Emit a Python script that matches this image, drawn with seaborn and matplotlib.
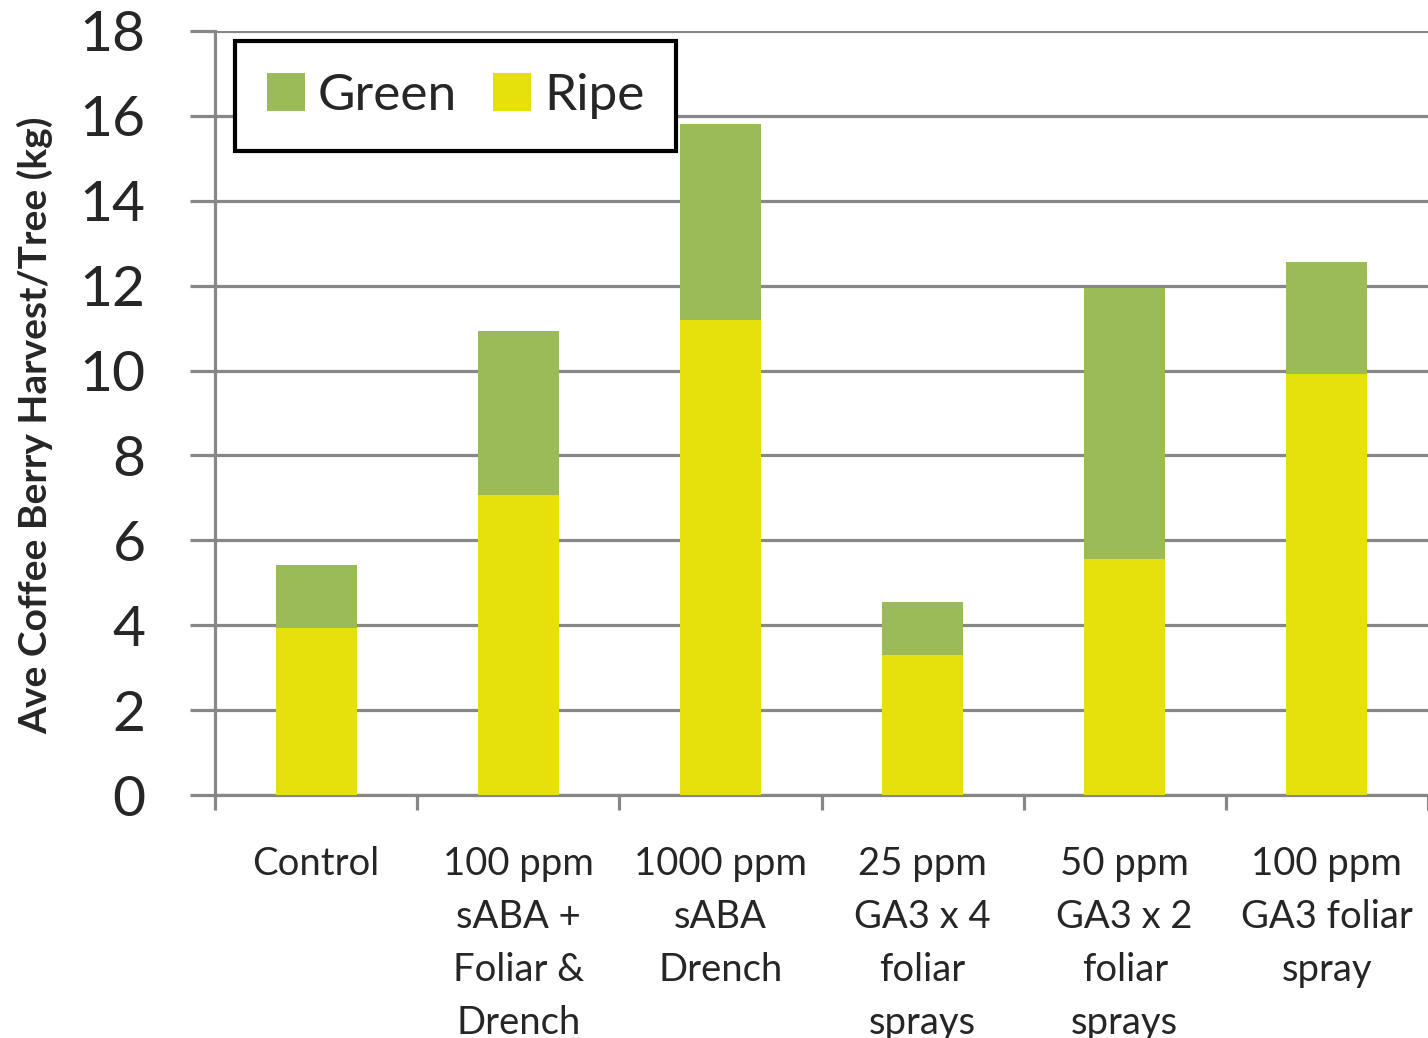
import numpy as np
import pandas as pd
import seaborn as sns
import matplotlib.pyplot as plt
from matplotlib.ticker import MultipleLocator, FixedLocator

# values (kg per tree)
treatments = ["Control",
              "100 ppm\nsABA +\nFoliar &\nDrench",
              "1000 ppm\nsABA\nDrench",
              "25 ppm\nGA3 x 4\nfoliar\nsprays",
              "50 ppm\nGA3 x 2\nfoliar\nsprays",
              "100 ppm\nGA3 foliar\nspray"]
ripe = [3.93, 7.07, 11.19, 3.30, 5.56, 9.92]
green = [1.49, 3.86, 4.62, 1.25, 6.39, 2.64]

GREEN = "#9bbb59"
YELLOW = "#e6e10c"
GRID = "#878787"

df = pd.DataFrame({"treatment": treatments, "ripe": ripe, "green": green})
df["total"] = df["ripe"] + df["green"]

sns.set_theme(style="white")
plt.rcParams["font.family"] = ["Lato", "DejaVu Sans"]

fig = plt.figure(figsize=(14.28, 10.38), dpi=100)
ax = fig.add_axes([215 / 1428, 1 - 795 / 1038, 1 - 215 / 1428, (795 - 31) / 1038])

# stacked bars: draw total in green, ripe on top of it in yellow
sns.barplot(data=df, x="treatment", y="total", color=GREEN, saturation=1,
            width=0.4, linewidth=0, errorbar=None, label="Green", ax=ax, zorder=3)
sns.barplot(data=df, x="treatment", y="ripe", color=YELLOW, saturation=1,
            width=0.4, linewidth=0, errorbar=None, label="Ripe", ax=ax, zorder=3)

ax.set_xlim(-0.5, 5.5)
ax.set_ylim(0, 18)
ax.yaxis.set_major_locator(MultipleLocator(2))
ax.grid(axis="y", color=GRID, linewidth=2.3, zorder=0)
ax.set_axisbelow(True)

for side in ["top", "right"]:
    ax.spines[side].set_visible(False)
for side in ["left", "bottom"]:
    ax.spines[side].set_color(GRID)
    ax.spines[side].set_linewidth(2.3)

ax.set_xticks(range(len(treatments)))
ax.set_xticklabels(treatments, fontsize=27.5, linespacing=1.58, va="top")
ax.xaxis.set_minor_locator(FixedLocator(np.arange(-0.5, 6, 1)))
ax.tick_params(axis="x", which="major", length=0, pad=37)
ax.tick_params(axis="x", which="minor", bottom=True, length=11, width=2.3, color=GRID)
ax.tick_params(axis="y", which="major", left=True, length=18, width=2.3, color=GRID,
               labelsize=41, pad=32)

ax.set_xlabel("")
ax.set_ylabel("")
fig.text(35 / 1428, 1 - 425 / 1038, "Ave Coffee Berry Harvest/Tree (kg)",
         rotation=90, ha="center", va="center", fontsize=28, fontweight="bold")

leg = ax.legend(loc="upper left", bbox_to_anchor=(0.0165, 0.987), borderaxespad=0,
                ncol=2, fontsize=37, frameon=True, fancybox=False,
                handlelength=0.74, handleheight=0.74, handletextpad=0.25,
                columnspacing=0.7, borderpad=0.62)
leg.get_frame().set_edgecolor("black")
leg.get_frame().set_linewidth(3)
leg.get_frame().set_alpha(1)

fig.savefig("out.png", dpi=100)
